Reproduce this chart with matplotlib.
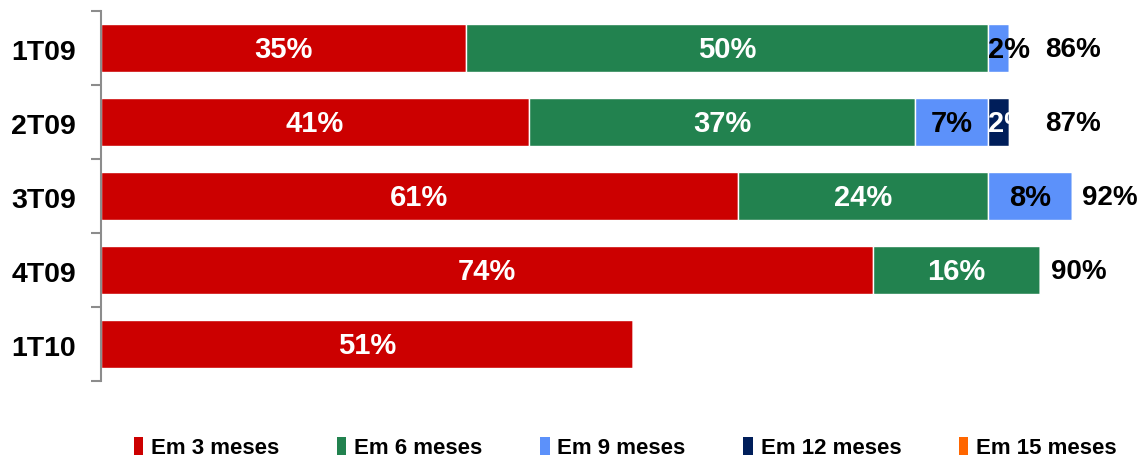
import matplotlib
matplotlib.use("Agg")
import matplotlib.pyplot as plt
import numpy as np
from matplotlib.patches import Patch

plt.rcParams["font.family"] = ["Liberation Sans", "DejaVu Sans"]
plt.rcParams["font.weight"] = "bold"

# quarters and share of portfolio recovered per horizon (%)
quarters = ["1T09", "2T09", "3T09", "4T09", "1T10"]
em_3 = [35, 41, 61, 74, 51]
em_6 = [50, 37, 24, 16, 0]
em_9 = [2, 7, 8, 0, 0]
em_12 = [0, 2, 0, 0, 0]
em_15 = [0, 0, 0, 0, 0]
totals = [86, 87, 92, 90, None]

series = [
    ("Em 3 meses", em_3, "#CC0000", "white"),
    ("Em 6 meses", em_6, "#22824F", "white"),
    ("Em 9 meses", em_9, "#5C91FA", "black"),
    ("Em 12 meses", em_12, "#001E5A", "white"),
    ("Em 15 meses", em_15, "#FF6600", "white"),
]

W, H = 1143, 458
fig = plt.figure(figsize=(W / 100, H / 100), dpi=100, facecolor="white")
ax = fig.add_axes([101 / W, (H - 381) / H, 1054 / W, 370 / H])

y = np.arange(len(quarters))
left = np.zeros(len(quarters))
last_width = np.zeros(len(quarters))
for name, vals, color, txt in series:
    vals = np.array(vals, dtype=float)
    ax.barh(y, vals, left=left, height=0.66, color=color, edgecolor="white",
            linewidth=1, label=name)
    for i, v in enumerate(vals):
        if v <= 0:
            continue
        if v < 4:
            # narrow segment: label starts at the segment edge
            ax.text(left[i], y[i] + 0.03, f"{v:.0f}%", ha="left", va="center",
                    color=txt, fontsize=21, fontweight="bold")
        else:
            ax.text(left[i] + v / 2, y[i] + 0.03, f"{v:.0f}%", ha="center", va="center",
                    color=txt, fontsize=21, fontweight="bold")
        last_width[i] = v
    left += vals

for i, t in enumerate(totals):
    if t is None:
        continue
    pad = 3.5 if last_width[i] < 4 else 1.0
    ax.text(left[i] + pad, y[i] + 0.03, f"{t}%", ha="left", va="center",
            color="black", fontsize=20, fontweight="bold")

ax.set_xlim(0, 101)
ax.set_ylim(len(quarters) - 0.5, -0.5)
ax.set_xticks([])
ax.set_yticks(y + 0.03)
ax.set_yticklabels(quarters, fontsize=20.5, fontweight="bold")
ax.set_yticks(np.arange(-0.5, len(quarters)), minor=True)
ax.tick_params(axis="y", which="major", length=0, pad=18)
ax.tick_params(axis="y", which="minor", length=7, width=1.5, color="#8C8C8C")
for s in ["top", "right", "bottom"]:
    ax.spines[s].set_visible(False)
ax.spines["left"].set_color("#8C8C8C")
ax.spines["left"].set_linewidth(1.5)

handles = [Patch(facecolor=c, edgecolor="none", label=n) for n, _, c, _ in series]
fig.legend(handles=handles, loc="lower left", bbox_to_anchor=(114 / W, -0.045),
           ncol=5, frameon=False, handlelength=0.42, handleheight=0.85,
           handletextpad=0.35, columnspacing=2.6,
           prop={"family": ["Liberation Sans"], "weight": "bold", "size": 16})

fig.savefig("out.png", dpi=100, facecolor="white")
